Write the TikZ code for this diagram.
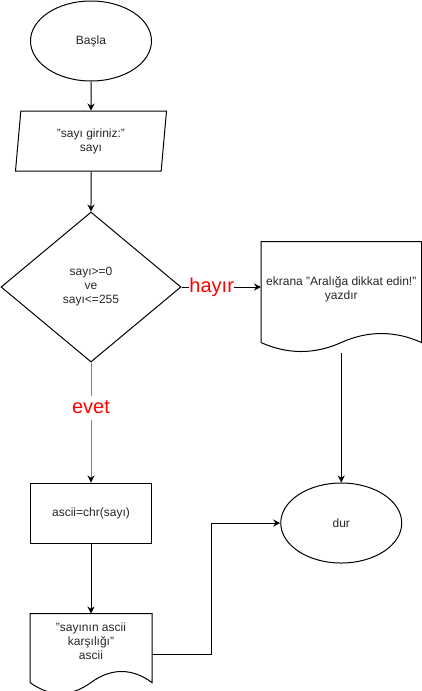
\documentclass[tikz,border=0pt]{standalone}
\usepackage{fontspec}
\setmainfont{Liberation Sans}
\usetikzlibrary{shapes.geometric,positioning,arrows.meta}

\begin{document}
\begin{tikzpicture}[line width=1pt,
	>={Stealth[length=7pt,width=7pt]},
	every node/.style={font=\fontsize{12}{14}\selectfont,text=black!85},
	terminal/.style={ellipse,draw,minimum width=121pt,minimum height=80pt},
	girdi/.style={trapezium,draw,trapezium left angle=80.5,trapezium right angle=99.5,
		trapezium stretches body,minimum width=151pt,minimum height=60pt,align=center},
	karar/.style={diamond,draw,minimum width=180pt,minimum height=150pt,align=center,inner sep=0pt},
	islem kutu/.style={rectangle,draw,minimum width=121pt,minimum height=60pt},
	belge/.style={rectangle,align=center,inner sep=0pt},
	etiket/.style={font=\fontsize{20}{24}\selectfont,text=red,fill=white,inner xsep=0pt,
		inner ysep=0pt,text height=17pt,text depth=7pt}]
	
	\useasboundingbox (0,0) rectangle (421pt,-691pt);
	
	\node[terminal] (basla) at (91pt,-41pt) {Başla};
	\node[girdi] (giris) [below=29pt of basla] {"sayı giriniz:"\\sayı};
	\node[karar] (kosul) [below=40pt of giris] {sayı>=0\\ve\\sayı<=255};
	\node[islem kutu] (islem) [below=120pt of kosul] {ascii=chr(sayı)};
	\node[belge,minimum width=121pt,minimum height=54pt] (sonuc) [below=70pt of islem] {"sayının ascii\\karşılığı"\\ascii};
	\node[belge,minimum width=159.5pt,minimum height=94pt] (uyari) [right=79.5pt of kosul,yshift=-2pt] {ekrana "Aralığa dikkat edin!"\\yazdır};
	\node[terminal] (dur) [below=146pt of uyari] {dur};
	
	% belge kenarlari
	\draw (uyari.north west) -- (uyari.north east) -- ([yshift=-6pt]uyari.south east)
		.. controls +(-26.6pt,12pt) and +(26.6pt,12pt) .. ([yshift=-6pt]uyari.south)
		.. controls +(-26.6pt,-12pt) and +(26.6pt,-12pt) .. ([yshift=-6pt]uyari.south west) -- cycle;
	\draw (sonuc.north west) -- (sonuc.north east) -- ([yshift=-14pt]sonuc.south east)
		.. controls +(-20.2pt,14.7pt) and +(20.2pt,14.7pt) .. ([yshift=-14pt]sonuc.south)
		.. controls +(-20.2pt,-14.7pt) and +(20.2pt,-14.7pt) .. ([yshift=-14pt]sonuc.south west) -- cycle;
	
	\path[->]
	
	(basla) edge (giris)
	(giris) edge (kosul)
	(kosul.east) edge node[etiket,pos=.38] {hayır} (kosul.east -| uyari.west)
	(kosul) edge[gray,-{Stealth[length=7pt,width=7pt,color=black]}] node[etiket,pos=.38] {evet} (islem)
	(islem) edge (sonuc)
	([yshift=-16pt]uyari.south) edge (dur)
	([yshift=-13pt]sonuc.east) edge[to path={-- ++(59pt,0) |- (\tikztotarget)}] (dur.west);
	
\end{tikzpicture}
\end{document}
